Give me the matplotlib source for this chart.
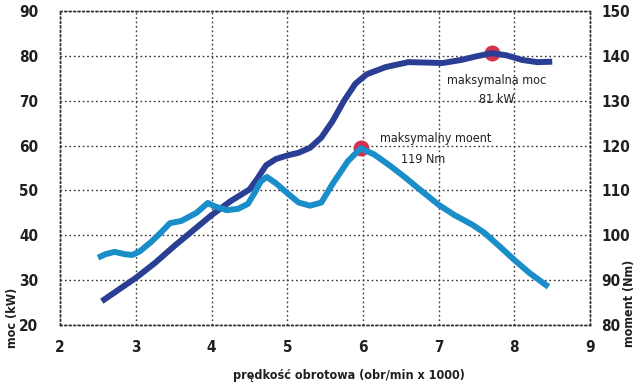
import matplotlib.pyplot as plt

# rpm x 1000 -> power (kW)
power_rpm = [2.55, 2.8, 3.0, 3.25, 3.5, 3.75, 4.0, 4.25, 4.5, 4.6, 4.72, 4.85, 5.0,
             5.15, 5.3, 5.45, 5.6, 5.75, 5.9, 6.05, 6.3, 6.6, 6.85, 7.05, 7.3,
             7.5, 7.7, 7.9, 8.1, 8.3, 8.5]
power_kw = [25.3, 28.2, 30.5, 33.8, 37.5, 41.0, 44.5, 47.6, 50.2, 52.5, 55.6, 57.0, 57.8,
            58.4, 59.5, 61.8, 65.5, 70.0, 73.8, 75.9, 77.5, 78.6, 78.5, 78.4, 79.1,
            79.9, 80.6, 80.1, 79.1, 78.6, 78.7]

# rpm x 1000 -> torque (Nm)
torque_rpm = [2.5, 2.6, 2.72, 2.85, 2.95, 3.05, 3.2, 3.33, 3.45, 3.6, 3.8, 3.95,
              4.05, 4.2, 4.35, 4.48, 4.57, 4.65, 4.73, 4.85, 5.0, 5.15, 5.3, 5.45,
              5.6, 5.8, 5.97, 6.15, 6.35, 6.55, 6.75, 7.0, 7.2, 7.45, 7.6, 7.8,
              8.0, 8.2, 8.45]
torque_nm = [95.0, 95.8, 96.3, 95.8, 95.6, 96.4, 98.5, 100.6, 102.7, 103.2, 105.0, 107.2,
             106.4, 105.6, 105.9, 107.0, 109.5, 112.0, 113.0, 111.6, 109.4, 107.3, 106.6, 107.3,
             111.5, 116.5, 119.4, 118.0, 115.6, 113.0, 110.2, 106.8, 104.6, 102.3, 100.6, 97.6,
             94.5, 91.6, 88.5]

max_power = (7.7, 80.6)
max_torque = (5.97, 119.4)

dark = "#2a3f93"
light = "#1a8ec8"
red = "#d4314f"
ink = "#231f20"
font = ["DejaVu Sans"]

fig = plt.figure(figsize=(6.4, 3.86), dpi=100)
ax = fig.add_axes([0.094, 0.158, 0.828, 0.8135])
ax2 = ax.twinx()

ax.set_xlim(2, 9)
ax.set_ylim(20, 90)
ax2.set_ylim(80, 150)

ax.grid(True, linestyle=(0, (1.2, 2.0)), color="#333333", linewidth=1.0)
for a in (ax, ax2):
    for s in a.spines.values():
        s.set_linestyle((0, (1.2, 2.0)))
        s.set_color("#333333")
        s.set_linewidth(1.0)
    a.tick_params(length=0, labelsize=11, colors=ink)
ax.tick_params(axis="y", pad=16)
ax.tick_params(axis="x", pad=11)
ax2.tick_params(axis="y", pad=8)

ax.set_xticks(range(2, 10))
ax.set_yticks(range(20, 100, 10))
ax2.set_yticks(range(80, 160, 10))
for lab in ax.get_xticklabels() + ax.get_yticklabels() + ax2.get_yticklabels():
    lab.set_family(font)
    lab.set_fontweight("bold")
    lab.set_fontstretch("condensed")

# markers behind lines
ax.scatter(*max_power, s=110, color=red, zorder=2)
ax2.scatter(*max_torque, s=110, color=red, zorder=2)

ax.plot(power_rpm, power_kw, color=dark, linewidth=4.3, solid_capstyle="butt",
        solid_joinstyle="round", zorder=3)
ax2.plot(torque_rpm, torque_nm, color=light, linewidth=4.3, solid_capstyle="butt",
         solid_joinstyle="round", zorder=3)

txt = dict(family=font, fontsize=9, color=ink, stretch="condensed")
ax.text(7.77, 74.4, "maksymalna moc", ha="center", va="center", **txt)
ax.text(7.77, 70.2, "81 kW", ha="center", va="center", **txt)
ax2.text(6.22, 121.5, "maksymalny moent", ha="left", va="center", **txt)
ax2.text(6.8, 117.0, "119 Nm", ha="center", va="center", **txt)

lbl = dict(family=font, fontsize=9, fontweight="bold", color=ink, stretch="condensed")
ax.set_xlabel("prędkość obrotowa (obr/min x 1000)", labelpad=10, x=0.545, **lbl)
fig.text(0.02, 0.176, "moc (kW)", rotation=90, ha="center", va="center", **lbl)
fig.text(0.983, 0.215, "moment (Nm)", rotation=90, ha="center", va="center", **lbl)

fig.savefig("out.png", dpi=100)
